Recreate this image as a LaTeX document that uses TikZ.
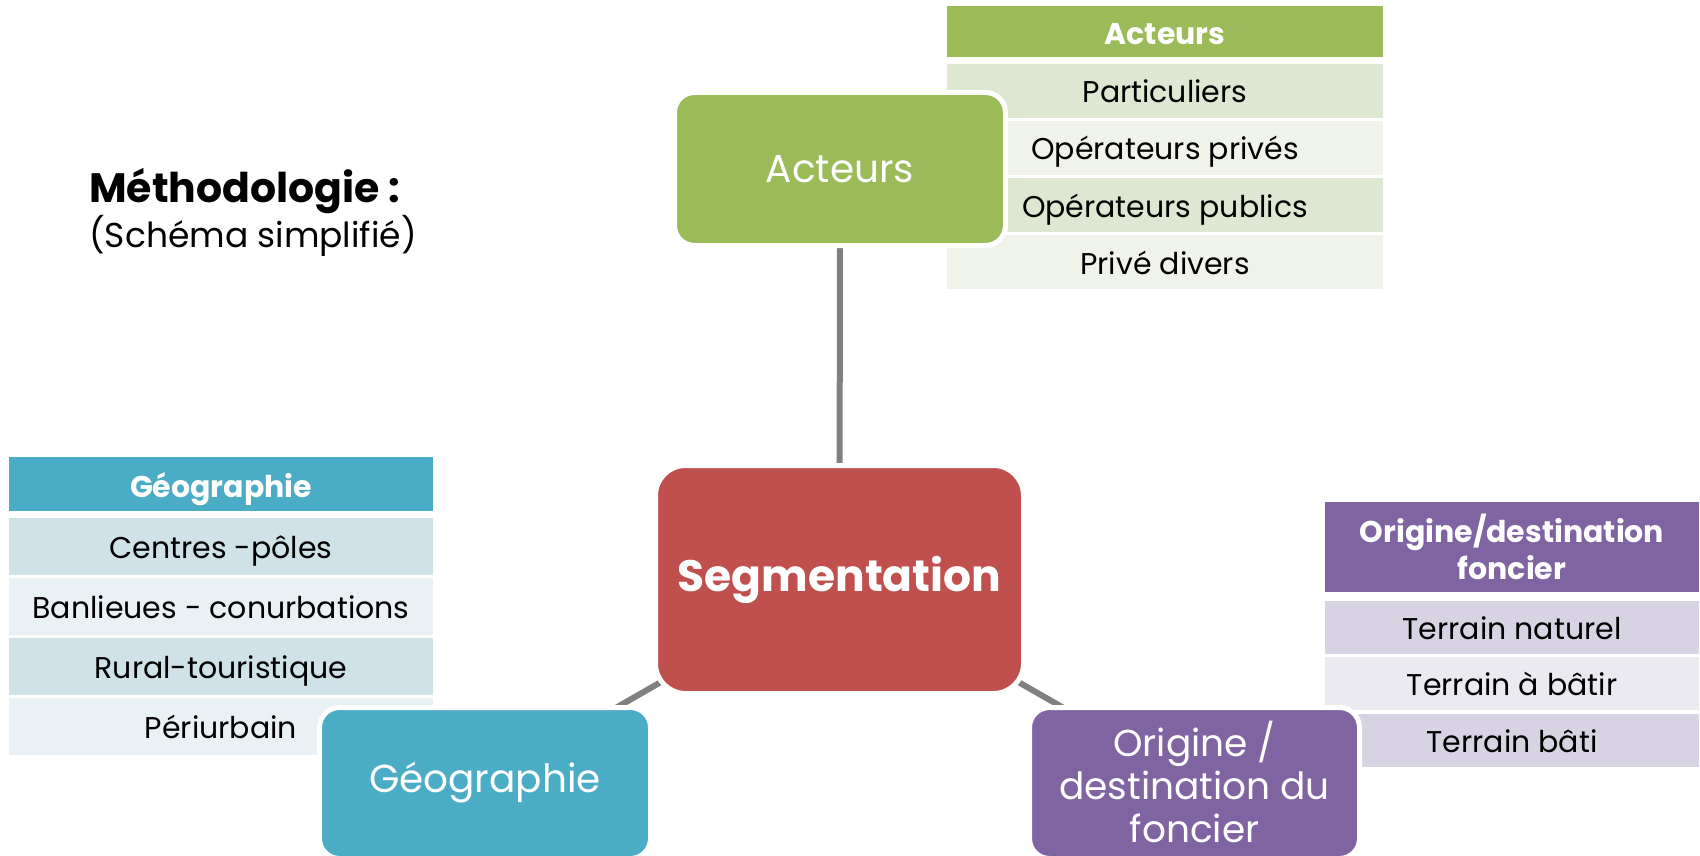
\documentclass[tikz,border=0pt]{standalone}
\usepackage{fontspec}
\setmainfont{Poppins}
\usetikzlibrary{backgrounds}
\definecolor{cgreen}{HTML}{9BBB59}
\definecolor{cgreenA}{HTML}{DEE7D1}
\definecolor{cgreenB}{HTML}{EFF3EA}
\definecolor{cblue}{HTML}{4BACC6}
\definecolor{cblueA}{HTML}{CFE2E8}
\definecolor{cblueB}{HTML}{E9F1F4}
\definecolor{cred}{HTML}{C0504D}
\definecolor{cpurple}{HTML}{8064A2}
\definecolor{cpurpleA}{HTML}{D8D3E3}
\definecolor{cpurpleB}{HTML}{ECEAF1}
\definecolor{cgray}{HTML}{808080}
\begin{document}
\begin{tikzpicture}[x=1pt,y=-1pt,
  cell/.style={rectangle, inner sep=0pt, text=black, text height=30pt, text depth=6pt, font=\fontsize{30}{34}\selectfont},
  head/.style={rectangle, inner sep=0pt, text=white, align=center, font=\fontsize{30}{37}\selectfont\bfseries},
  head1/.style={head, text height=32pt, text depth=6pt},
  bigbox/.style={rectangle, rounded corners=20pt, draw=white, line width=5pt, inner sep=0pt, text=white, align=center, font=\fontsize{39}{44}\selectfont},
  conn/.style={draw=cgray, line width=6pt}
]
\useasboundingbox (0,0) rectangle (1700,856);

% Title
\node[anchor=west, inner sep=0pt, font=\fontsize{41}{44}\selectfont\bfseries] (title) at (89,191) {Méthodologie :};
\node[anchor=west, inner sep=0pt, font=\fontsize{34.5}{38}\selectfont] (subtitle) at (89,236) {(Schéma simplifié)};

% Acteurs table
\node[head1, fill=cgreen, minimum width=436pt, minimum height=51pt] (ah) at (1165,31.5) {Acteurs};
\node[cell, fill=cgreenA, minimum width=436pt, minimum height=54pt] (a1) at (1165,91) {Particuliers};
\node[cell, fill=cgreenB, minimum width=436pt, minimum height=54pt] (a2) at (1165,148) {Opérateurs privés};
\node[cell, fill=cgreenA, minimum width=436pt, minimum height=54pt] (a3) at (1165,205) {Opérateurs publics};
\node[cell, fill=cgreenB, minimum width=436pt, minimum height=54pt] (a4) at (1165,262) {Privé divers};

% Geographie table
\node[head1, fill=cblue, minimum width=424pt, minimum height=54pt] (gh) at (221,484) {Géographie};
\node[cell, fill=cblueA, minimum width=424pt, minimum height=57pt] (g1) at (221,546.5) {Centres -pôles};
\node[cell, fill=cblueB, minimum width=424pt, minimum height=57pt] (g2) at (221,606.5) {Banlieues - conurbations};
\node[cell, fill=cblueA, minimum width=424pt, minimum height=57pt] (g3) at (221,666.5) {Rural-touristique};
\node[cell, fill=cblueB, minimum width=424pt, minimum height=57pt] (g4) at (221,726.5) {Périurbain};

% Origine table
\node[head, fill=cpurple, minimum width=374pt, minimum height=90pt] (oh) at (1512,547) {Origine/destination\\foncier};
\node[cell, fill=cpurpleA, minimum width=374pt, minimum height=53pt] (o1) at (1512,627) {Terrain naturel};
\node[cell, fill=cpurpleB, minimum width=374pt, minimum height=53pt] (o2) at (1512,683.5) {Terrain à bâtir};
\node[cell, fill=cpurpleA, minimum width=374pt, minimum height=53pt] (o3) at (1512,740.5) {Terrain bâti};

% Main nodes
\node[bigbox, fill=cgreen, minimum width=331pt, minimum height=153pt] (act) at (840,169) {Acteurs};
\node[bigbox, fill=cred, rounded corners=30pt, minimum width=368pt, minimum height=228pt, font=\fontsize{44}{48}\selectfont\bfseries] (seg) at (839.5,579.5) {Segmentation};
\node[bigbox, fill=cblue, minimum width=331pt, minimum height=151pt] (geo) at (485,783) {Géographie};
\node[bigbox, fill=cpurple, minimum width=330pt, minimum height=151pt, font=\fontsize{37.5}{43}\selectfont] (ori) at (1194.5,783) {Origine /\\destination du\\foncier\rule[-3pt]{0pt}{0pt}};

% Connectors
\begin{scope}[on background layer]
\draw[conn] (seg.center) -- (act.center);
\draw[conn] (seg.center) -- (geo.center);
\draw[conn] (seg.center) -- (ori.center);
\end{scope}
\end{tikzpicture}
\end{document}
